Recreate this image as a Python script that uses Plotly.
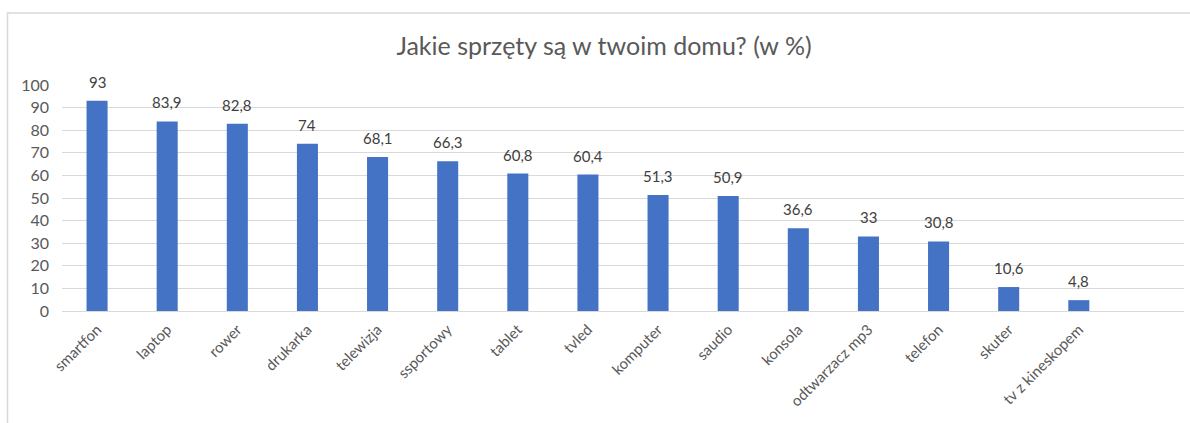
import plotly.graph_objects as go

categories = ["smartfon", "laptop", "rower", "drukarka", "telewizja", "ssportowy",
              "tablet", "tvled", "komputer", "saudio", "konsola", "odtwarzacz mp3",
              "telefon", "skuter", "tv z kineskopem"]
values = [93, 83.9, 82.8, 74, 68.1, 66.3, 60.8, 60.4, 51.3, 50.9, 36.6, 33, 30.8, 10.6, 4.8]
y_ticks = [0, 10, 20, 30, 40, 50, 60, 70, 80, 90, 100]
title_text = "Jakie sprzęty są w twoim domu? (w %)"

labels = [(f"{v:g}").replace(".", ",") for v in values]

W, H = 1190, 423
L, R, T, B = 62, 6, 85, 112
pw, ph = W - L - R, H - T - B

fig = go.Figure()
fig.add_trace(go.Bar(
    x=categories, y=values,
    marker=dict(color="#4472C4", line=dict(width=0)),
    hoverinfo="x+y",
))

for c, v, t in zip(categories, values, labels):
    fig.add_annotation(x=c, y=v, text=t, showarrow=False, yanchor="bottom",
                       yshift=8, font=dict(family="Lato", size=15, color="#404040"))

fig.add_shape(type="rect", xref="paper", yref="paper",
              x0=(7.5 - L) / pw, x1=1.05, y0=-0.7, y1=(H - B - 13) / ph,
              line=dict(color="#d9d9d9", width=1.5), fillcolor="rgba(0,0,0,0)")

fig.update_layout(
    width=W, height=H,
    margin=dict(l=L, r=R, t=T, b=B),
    paper_bgcolor="white", plot_bgcolor="white",
    bargap=0.7,
    showlegend=False,
    title=dict(text=title_text, x=(604 - L) / pw, xref="paper", xanchor="center",
               y=1 - 46 / H, yanchor="middle",
               font=dict(family="Lato", size=25, color="#595959")),
    font=dict(family="Lato", size=15, color="#595959"),
)
fig.update_xaxes(
    type="category", range=[-0.5, 15.5], tickangle=-45,
    tickfont=dict(family="Lato", size=15, color="#595959"),
    showgrid=False, showline=False, ticks="", ticklabelstandoff=6,
)
fig.update_yaxes(
    range=[0, 100], tickvals=y_ticks, showgrid=True, gridcolor="#d9d9d9", gridwidth=1,
    zeroline=True, zerolinecolor="#d9d9d9", zerolinewidth=1,
    tickfont=dict(family="Lato", size=16, color="#595959"),
    ticks="", ticklabelstandoff=12,
)

fig.write_html("out.html", config={"displayModeBar": False},
               post_script="document.body.style.margin='0';")
